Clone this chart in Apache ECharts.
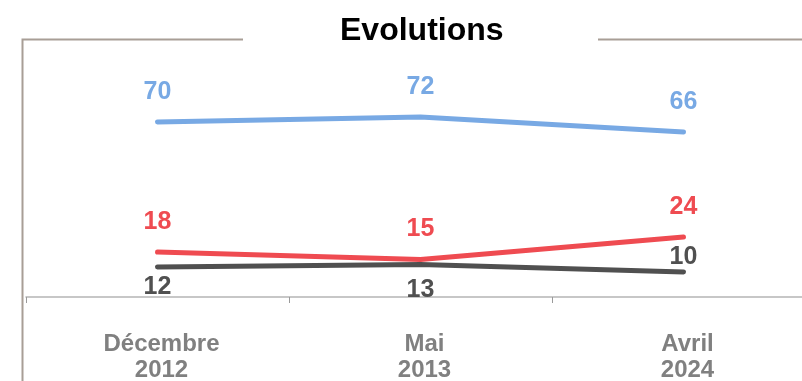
<!DOCTYPE html>
<html>
<head>
<meta charset="utf-8">
<script src="https://cdn.jsdelivr.net/npm/echarts@6/dist/echarts.min.js"></script>
<style>
  html, body { margin: 0; padding: 0; background: #fff; }
  #chart { width: 802px; height: 381px; }
</style>
</head>
<body>
<div id="chart"></div>
<script>
// Survey periods and the three tracked shares (%)
const periods = ['Décembre\n2012', 'Mai\n2013', 'Avril\n2024'];
const blueValues = [70, 72, 66];
const redValues = [18, 15, 24];
const greyValues = [12, 13, 10];
// Where each grey label sits relative to its point
const greyLabelSides = ['bottom', 'bottom', 'top'];
const greyLabelGaps = [7, 13, 2];

const FONT = '"Liberation Sans", Arial, sans-serif';
const BLUE = '#78a9e4';
const RED = '#ef4b51';
const GREY = '#505050';
const FRAME = '#a89e96';

function valueLabel(color, side, gap) {
  return {
    show: true,
    position: side,
    distance: gap,
    color: color,
    fontFamily: FONT,
    fontWeight: 'bold',
    fontSize: 25,
    lineHeight: 24
  };
}

function lineSeries(name, values, color, label) {
  return {
    name: name,
    type: 'line',
    data: values,
    symbol: 'circle',
    symbolSize: 2,
    showSymbol: true,
    lineStyle: { color: color, width: 5, cap: 'round', join: 'round' },
    itemStyle: { color: color },
    label: label,
    z: 3
  };
}

const greyData = greyValues.map((v, i) => ({
  value: v,
  label: valueLabel(GREY, greyLabelSides[i], greyLabelGaps[i])
}));

const chart = echarts.init(document.getElementById('chart'), null, { renderer: 'canvas' });
chart.setOption({
  animation: false,
  backgroundColor: '#ffffff',
  title: {
    text: 'Evolutions',
    left: 335,
    top: 8,
    textStyle: {
      fontFamily: FONT,
      fontWeight: 'bold',
      fontSize: 32,
      lineHeight: 36,
      color: '#000000'
    }
  },
  graphic: [
    {
      type: 'polyline',
      shape: { points: [[243, 39.5], [22.5, 39.5], [22.5, 381]] },
      style: { stroke: FRAME, lineWidth: 2, fill: null },
      silent: true
    },
    {
      type: 'line',
      shape: { x1: 598, y1: 39.5, x2: 802, y2: 39.5 },
      style: { stroke: FRAME, lineWidth: 2 },
      silent: true
    }
  ],
  grid: { left: 26, width: 789, top: 47, height: 250, outerBoundsMode: 'none', containLabel: false },
  xAxis: {
    type: 'category',
    data: periods,
    boundaryGap: true,
    axisLine: { show: true, lineStyle: { color: '#b5b5b5', width: 1.5 } },
    axisTick: { show: true, length: 6, lineStyle: { color: '#9a9a9a', width: 1 } },
    axisLabel: {
      margin: 34,
      padding: [0, 0, 0, 8],
      fontFamily: FONT,
      fontWeight: 'bold',
      fontSize: 24,
      lineHeight: 26,
      color: '#808080'
    }
  },
  yAxis: {
    type: 'value',
    min: 0,
    max: 100,
    show: false,
    splitLine: { show: false }
  },
  series: [
    lineSeries('bleu', blueValues, BLUE, valueLabel(BLUE, 'top', 17)),
    lineSeries('rouge', redValues, RED, valueLabel(RED, 'top', 17)),
    lineSeries('gris', greyData, GREY, valueLabel(GREY, 'bottom', 7))
  ]
});
</script>
</body>
</html>
